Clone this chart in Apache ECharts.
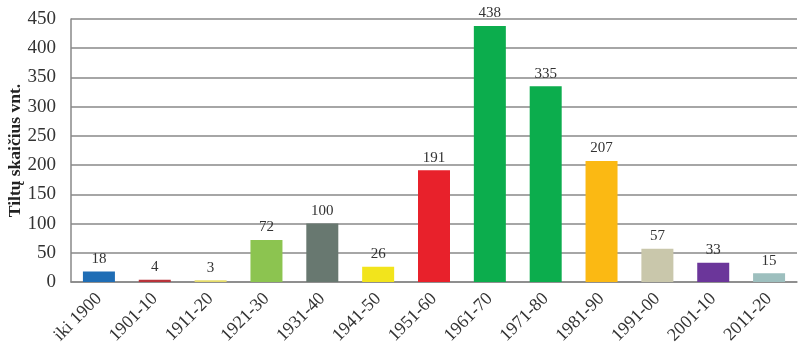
<!DOCTYPE html>
<html><head><meta charset="utf-8">
<script src="https://cdn.jsdelivr.net/npm/echarts@6/dist/echarts.min.js"></script>
<style>html,body{margin:0;padding:0;background:#fff}#c{width:800px;height:351px}</style>
</head><body><div id="c"></div>
<script>
var categories = ['iki 1900','1901-10','1911-20','1921-30','1931-40','1941-50','1951-60','1961-70','1971-80','1981-90','1991-00','2001-10','2011-20'];
var values = [18,4,3,72,100,26,191,438,335,207,57,33,15];
var colors = ['#1f6db5','#b8333a','#e6dc6a','#8cc450','#687870','#f2e41c','#e8212b','#0cad4d','#0cad4d','#fbb913','#c9c7ab','#6b369a','#9dbfbe'];
var yTicks = {min:0, max:450, interval:50};
var yName = 'Tiltų skaičius vnt.';
var serif = '"Liberation Serif","Times New Roman",serif';
var chart = echarts.init(document.getElementById('c'));
chart.setOption({
  animation:false,
  grid:{left:71,right:3,top:19,bottom:69,containLabel:false,outerBoundsMode:'none'},
  xAxis:{type:'category',data:categories,
    axisLine:{show:true,lineStyle:{color:'#888',width:1.5}},
    axisTick:{show:false},
    axisLabel:{rotate:45,interval:0,margin:14,fontFamily:serif,fontSize:18,color:'#333'}},
  yAxis:{type:'value',min:yTicks.min,max:yTicks.max,interval:yTicks.interval,
    name:yName,nameLocation:'middle',nameGap:47,nameRotate:90,nameMoveOverlap:false,
    nameTextStyle:{fontFamily:serif,fontSize:17.5,fontWeight:'bold',color:'#222'},
    axisLine:{show:true,lineStyle:{color:'#888',width:1.5}},
    axisTick:{show:false},
    splitLine:{lineStyle:{color:'#888',width:1.5}},
    axisLabel:{fontFamily:serif,fontSize:19,color:'#333',margin:15}},
  series:[{type:'bar',barWidth:32,
    data:values.map(function(v,i){return {value:v,itemStyle:{color:colors[i]}};}),
    label:{show:true,position:'top',distance:5,fontFamily:serif,fontSize:15,color:'#333'}}]
});
</script></body></html>
